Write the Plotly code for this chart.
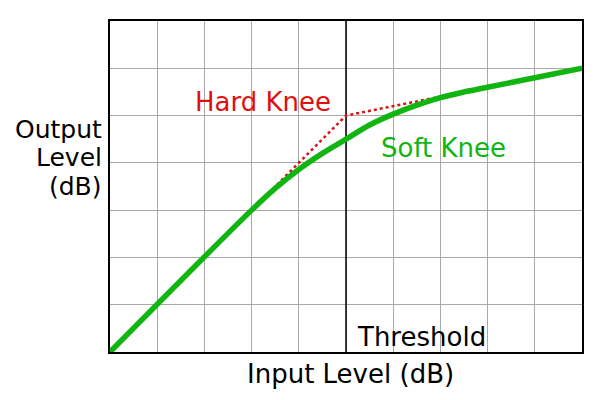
import plotly.graph_objects as go

# grid units: 10 columns of input level, 7 rows of output level
input_cols = 10
output_rows = 7
threshold = 5

# soft knee transfer curve
soft_x = [0, 3, 3.5, 4, 4.5, 5, 5.5, 6, 6.5, 7, 7.5, 8, 9, 10]
soft_y = [0, 3, 3.46, 3.86, 4.2, 4.5, 4.8, 5.03, 5.22, 5.38, 5.5, 5.6, 5.8, 6.0]

# hard knee (dotted part)
hard_x = [3, 5, 7.3]
hard_y = [3, 5, 5.46]

fnt = "DejaVu Sans"

fig = go.Figure()

# threshold marker
fig.add_trace(go.Scatter(x=[threshold, threshold], y=[0, output_rows], mode='lines',
                         line=dict(color='black', width=1.5), hoverinfo='skip'))

fig.add_trace(go.Scatter(x=hard_x, y=hard_y, mode='lines', name='Hard Knee',
                         line=dict(color='#dd1111', width=2.5, dash='dot')))

fig.add_trace(go.Scatter(x=soft_x, y=soft_y, mode='lines', name='Soft Knee',
                         line=dict(color='#11b511', width=5.5, shape='spline')))

# labels (paper coordinates so they can sit outside the grid)
def label(txt, x, y, color='black', xanchor='center', size=26):
    fig.add_annotation(x=x, y=y, xref='paper', yref='paper', text=txt, showarrow=False,
                       xanchor=xanchor, yanchor='middle',
                       font=dict(family=fnt, size=size, color=color))

label("Hard Knee", 0.325, 0.755, '#dd1111')
label("Soft Knee", 0.707, 0.616, '#11b511')
label("Threshold", 0.52, 0.045, xanchor='left')
label("Input Level (dB)", 0.51, -0.066)
label("Output", -0.013, 0.671, xanchor='right', size=25)
label("Level", -0.013, 0.587, xanchor='right', size=25)
label("(dB)", -0.013, 0.500, xanchor='right', size=25)

axis_style = dict(showticklabels=False, ticks='', showgrid=True, gridcolor='#a8a8a8',
                  gridwidth=1, zeroline=False, showline=True, linecolor='black',
                  linewidth=2, mirror=True, dtick=1, fixedrange=True)

fig.update_xaxes(range=[0, input_cols], **axis_style)
fig.update_yaxes(range=[0, output_rows], **axis_style)

fig.update_layout(width=591, height=392, showlegend=False,
                  margin=dict(l=102, r=17, t=13, b=48),
                  paper_bgcolor='white', plot_bgcolor='white')

fig.write_html("out.html")
